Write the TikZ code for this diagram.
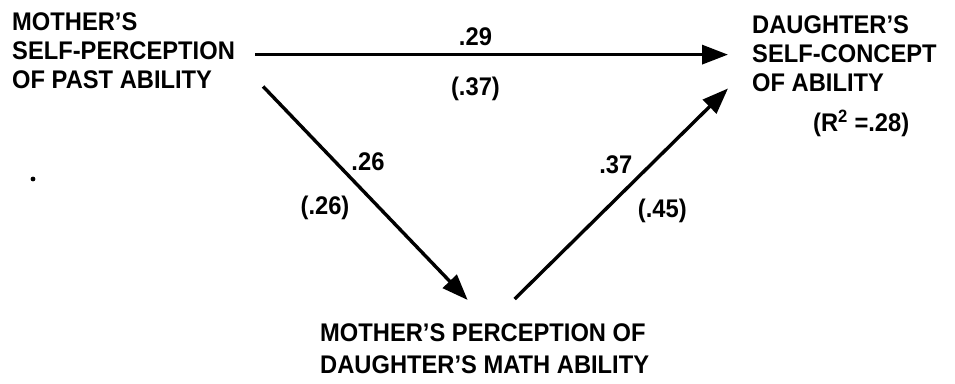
\documentclass[tikz,border=0pt]{standalone}
\usepackage{fontspec}
\setsansfont{Liberation Sans}[FakeStretch=0.93]
\usetikzlibrary{arrows.meta,positioning}

\begin{document}
\begin{tikzpicture}[
  x=1pt,y=1pt,
  font=\sffamily\bfseries\fontsize{25.5}{29}\selectfont,
  factor/.style={inner sep=0pt,align=left,anchor=north west},
  coef/.style={inner sep=3pt},
  arrow/.style={-{Triangle[length=26pt,width=19pt]},line width=3.4pt},
]
\useasboundingbox (0,0) rectangle (955,383);
\node[factor] (msp) at (12,371) {MOTHER'S\\SELF-PERCEPTION\\OF PAST ABILITY};
\node[factor] (dsc) at (752,368) {DAUGHTER'S\\SELF-CONCEPT\\OF ABILITY};
\node[anchor=base west,inner sep=0pt] (rsq) at (813,251) {(R\textsuperscript{2} =.28)};
\node[factor,font=\sffamily\bfseries\fontsize{25.5}{32}\selectfont] (mpd) at (320,60) {MOTHER'S PERCEPTION OF\\DAUGHTER'S MATH ABILITY};
% stray dot of the original
\fill (33,204) circle (2.4);
\draw[arrow] ([shift={(20pt,-4.4pt)}]msp.east) -- ([shift={(-24pt,-1.4pt)}]dsc.west)
  node[coef,pos=0.466,anchor=south,yshift=4pt]{.29}
  node[coef,pos=0.466,anchor=north,yshift=-18pt]{(.37)};
\draw[arrow] ([shift={(28pt,2pt)}]msp.south east) -- ([shift={(-17pt,23pt)}]mpd.north)
  node[coef,pos=0.353,anchor=west,xshift=11.5pt]{.26}
  node[coef,pos=0.567,anchor=east,xshift=-25pt]{(.26)};
\draw[arrow] ([shift={(30pt,24pt)}]mpd.north) -- ([shift={(-24pt,3pt)}]dsc.south west)
  node[coef,pos=0.639,anchor=east,xshift=-14pt]{.37}
  node[coef,pos=0.42,anchor=west,xshift=29pt]{(.45)};
\end{tikzpicture}
\end{document}
